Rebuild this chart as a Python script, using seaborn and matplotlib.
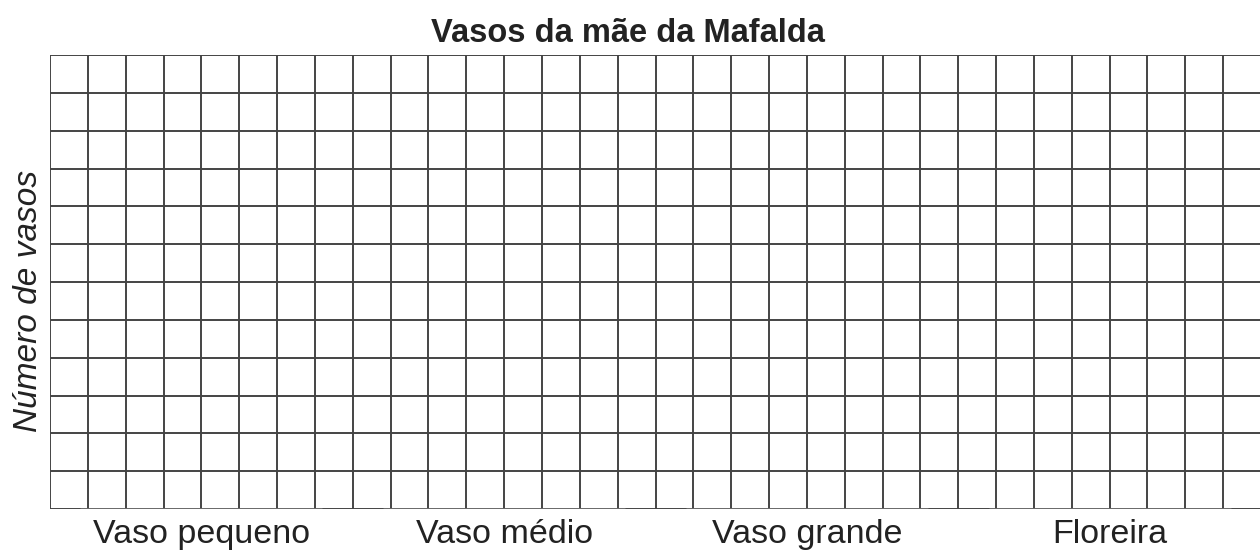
import matplotlib
matplotlib.use("Agg")
import matplotlib.pyplot as plt
import seaborn as sns
import pandas as pd
import numpy as np

# Data: empty template chart (no counts filled in yet)
categories = ["Vaso pequeno", "Vaso médio", "Vaso grande", "Floreira"]
counts = [0, 0, 0, 0]
n_rows = 12          # y range (number of grid rows)
cols_per_cat = 8     # grid columns per category
title = "Vasos da mãe da Mafalda"
ylabel = "Número de vasos"

sns.set_theme(style="white")
plt.rcParams['font.family'] = ['Liberation Sans', 'DejaVu Sans']

df = pd.DataFrame({"cat": categories, "n": counts})

fig = plt.figure(figsize=(12.6, 5.5), dpi=100)
ax = fig.add_axes([50/1260, 41/550, 1211/1260, 454/550])

sns.barplot(data=df, x="cat", y="n", ax=ax, color="#444444")

ax.set_xlim(-0.5, len(categories) - 0.5)
ax.set_ylim(0, n_rows)

grid_color = "#444444"
lw = 1.4
xs = np.arange(0, len(categories) * cols_per_cat + 1) / cols_per_cat - 0.5
for x in xs:
    ax.axvline(x, color=grid_color, lw=lw, zorder=0)
for y in range(n_rows + 1):
    ax.axhline(y, color=grid_color, lw=lw, zorder=0)

for s in ax.spines.values():
    s.set_visible(False)

ax.set_yticks([])
ax.set_xticks(range(len(categories)))
ax.set_xticklabels(categories, fontsize=24.5, color="#222222")
ax.tick_params(axis="x", length=0, pad=7)
ax.set_xlabel("")
ax.set_ylabel(ylabel, fontsize=24, style="italic", color="#222222")
ax.yaxis.set_label_coords(-0.005, 0.458)
ax.set_title(title, fontsize=23.5, fontweight="bold", color="#222222",
             pad=9, x=0.477)

fig.savefig("out.png", dpi=100)
